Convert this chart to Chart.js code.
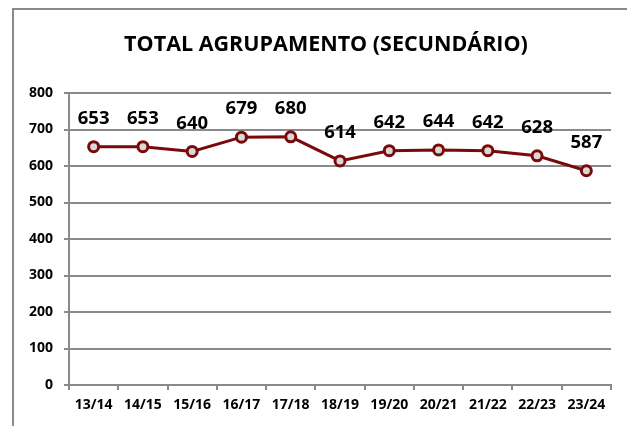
<!DOCTYPE html>
<html>
<head>
<meta charset="utf-8">
<script src="https://cdn.jsdelivr.net/npm/chart.js@4"></script>
<style>
    html, body { margin: 0; padding: 0; background: #fff; }
    #wrap { position: relative; width: 627px; height: 426px; }
    #frame {
        position: absolute; left: 12px; top: 8px; right: 0; bottom: 0;
        border-top: 2px solid #8a8a8a; border-left: 2px solid #8a8a8a;
        pointer-events: none;
    }
</style>
</head>
<body>
<div id="wrap">
    <canvas id="chart" width="627" height="426"></canvas>
    <div id="frame"></div>
</div>
<script>
// Chart values
const years = ['13/14', '14/15', '15/16', '16/17', '17/18', '18/19', '19/20', '20/21', '21/22', '22/23', '23/24'];
const totals = [653, 653, 640, 679, 680, 614, 642, 644, 642, 628, 587];
const yTicks = [0, 100, 200, 300, 400, 500, 600, 700, 800];
const titleText = 'TOTAL AGRUPAMENTO (SECUNDÁRIO)';

const FONT = '"Open Sans", "Noto Sans", sans-serif';
const LINE = '#7a0a0a';

// title + value labels drawn on the canvas
const textLayer = {
    id: 'textLayer',
    afterDatasetsDraw(chart) {
        const ctx = chart.ctx;
        const meta = chart.getDatasetMeta(0);
        ctx.save();
        ctx.fillStyle = '#000';
        ctx.textAlign = 'center';
        ctx.textBaseline = 'middle';
        ctx.font = 'bold 18.5px ' + FONT;
        meta.data.forEach((pt, i) => {
            ctx.fillText(String(totals[i]), pt.x, pt.y - 28);
        });
        ctx.font = 'bold 21.5px ' + FONT;
        ctx.fillText(titleText, 326, 45);
        ctx.restore();
    }
};

const ctx = document.getElementById('chart').getContext('2d');
new Chart(ctx, {
    type: 'line',
    data: {
        labels: years,
        datasets: [{
            data: totals,
            borderColor: LINE,
            borderWidth: 3,
            pointRadius: 5,
            pointBorderWidth: 3,
            pointBorderColor: LINE,
            pointBackgroundColor: '#d9d9d9',
            tension: 0
        }]
    },
    options: {
        responsive: false,
        animation: false,
        layout: { padding: { left: 0, right: 16, top: 93, bottom: 0 } },
        scales: {
            x: {
                offset: true,
                grid: {
                    offset: true,
                    drawOnChartArea: false,
                    drawTicks: true,
                    tickLength: 5,
                    color: '#8a8a8a',
                    lineWidth: 2
                },
                border: { color: '#8a8a8a', width: 2 },
                ticks: {
                    color: '#000',
                    padding: 7,
                    maxRotation: 0,
                    autoSkip: false,
                    font: { family: FONT, size: 14, weight: 'bold' }
                },
                afterFit(scale) { scale.height = 41; }
            },
            y: {
                min: 0,
                max: 800,
                afterBuildTicks(scale) { scale.ticks = yTicks.map(v => ({ value: v })); },
                grid: {
                    color: '#8a8a8a',
                    lineWidth: 2,
                    drawTicks: true,
                    tickLength: 5
                },
                border: { color: '#8a8a8a', width: 2 },
                ticks: {
                    color: '#000',
                    padding: 11,
                    font: { family: FONT, size: 14, weight: 'bold' }
                },
                afterFit(scale) { scale.width = 69; }
            }
        },
        plugins: {
            legend: { display: false },
            tooltip: { enabled: false },
            title: { display: false }
        }
    },
    plugins: [textLayer]
});
</script>
</body>
</html>
